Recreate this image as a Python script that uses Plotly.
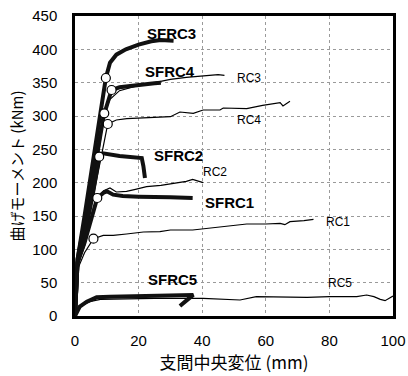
import plotly.graph_objects as go

# ---- data ----
sfrc3_x = [0, 0.8, 3, 6, 9.7, 11, 13, 16, 20, 24, 27, 31]
sfrc3_y = [0, 85, 150, 240, 357, 380, 392, 400, 407, 412, 414, 413]

sfrc4_x = [0, 0.8, 3, 6, 9, 11.5, 14, 17, 21, 25, 27]
sfrc4_y = [0, 85, 140, 215, 300, 339, 343, 345, 347, 349, 350]

rc3_x = [0, 0.8, 3, 6, 9.2, 11, 14, 20, 25, 30, 35, 40, 45, 47]
rc3_y = [0, 80, 125, 195, 304, 325, 338, 346, 350, 355, 358, 360, 362, 361]

rc4_x = [0, 0.8, 3, 6, 10.3, 13, 16.3, 22, 30, 33, 37.2, 40.3, 45.6, 46.6, 54, 59, 64.5, 65.4, 67.6]
rc4_y = [0, 80, 120, 185, 288, 294, 296, 297, 299, 306, 304, 309, 309, 312, 311, 316, 320, 315, 322]

sfrc2_x = [0, 0.8, 3, 5.5, 7.6, 8.8, 14, 21, 21.5, 22]
sfrc2_y = [0, 80, 120, 180, 239, 244, 240, 237, 225, 207]

sfrc1_x = [0, 0.8, 3, 5, 7, 9, 10, 12, 15, 20, 25, 30, 37]
sfrc1_y = [0, 80, 110, 145, 177, 185, 187, 182, 180, 179, 179, 178, 177]

rc2_x = [0, 0.8, 3, 5, 7, 9, 11, 13, 16.2, 19, 22.5, 27, 32, 35, 37, 38.5, 40.3]
rc2_y = [0, 75, 105, 140, 177, 188, 192, 186, 187, 190, 194, 196, 200, 202, 205, 203, 200]

rc1_x = [0, 0.8, 3, 5.8, 8.9, 12, 16.2, 21.5, 26.7, 30, 37, 41.4, 45.6, 54, 60, 64.5, 66, 67.6, 72, 75]
rc1_y = [0, 70, 95, 116, 121, 121, 123, 126, 126.5, 129, 129, 131.5, 134, 138, 138, 139, 137, 141.5, 143, 145]

sfrc5_x = [0, 0.5, 1.5, 3.7, 6.8, 11, 20, 30, 37.2, 35, 33]
sfrc5_y = [0, 6, 14, 21.5, 28, 29, 30, 31, 31.5, 23, 15]

rc5_x = [0, 0.5, 2, 5, 8, 15, 25, 40.3, 51.9, 57, 65, 73, 80, 88.6, 91.7, 94, 96, 97.5, 100]
rc5_y = [0, 5, 15, 22, 25, 26, 26.5, 26.5, 24, 29, 28, 28, 29, 29, 31.5, 29, 25, 23, 30]

yield_x = [9.7, 11.5, 9.2, 10.3, 7.6, 7.0, 5.8]
yield_y = [357, 339, 304, 288, 239, 177, 116]

label_text = ["SFRC3", "SFRC4", "SFRC2", "SFRC1", "SFRC5", "RC3", "RC4", "RC2", "RC1", "RC5"]
label_x = [30.5, 29.9, 32.4, 48.7, 30.8, 54.7, 54.7, 44, 82.7, 83.3]
label_y = [424.5, 367.5, 241.5, 171, 55.5, 357, 294, 216, 141, 49.5]

x_ticks = [0, 20, 40, 60, 80, 100]
y_ticks = [0, 50, 100, 150, 200, 250, 300, 350, 400, 450]

fig = go.Figure()

thin = dict(color="black", width=1.2)
thick = dict(color="#111", width=4)

for xs, ys in [(rc3_x, rc3_y), (rc4_x, rc4_y), (rc2_x, rc2_y), (rc1_x, rc1_y), (rc5_x, rc5_y)]:
    fig.add_trace(go.Scatter(x=xs, y=ys, mode="lines", line=thin, showlegend=False))
for xs, ys in [(sfrc3_x, sfrc3_y), (sfrc4_x, sfrc4_y), (sfrc2_x, sfrc2_y), (sfrc1_x, sfrc1_y), (sfrc5_x, sfrc5_y)]:
    fig.add_trace(go.Scatter(x=xs, y=ys, mode="lines", line=thick, showlegend=False))

fig.add_trace(go.Scatter(x=yield_x, y=yield_y, mode="markers",
                         marker=dict(symbol="circle", size=9, color="white",
                                     line=dict(color="black", width=1.2)),
                         showlegend=False))

for t, x, y in zip(label_text, label_x, label_y):
    bold = t.startswith("SFRC")
    fig.add_annotation(x=x, y=y, xref="x", yref="y", text=f"<b>{t}</b>" if bold else t,
                       showarrow=False,
                       font=dict(family="Liberation Sans, Arial", size=15 if bold else 12, color="black"))

axis_common = dict(showgrid=True, gridcolor="#9a9a9a", gridwidth=1, griddash="dot",
                   showline=True, linecolor="black", linewidth=2.5, mirror=True,
                   zeroline=False, ticks="", automargin=False,
                   tickfont=dict(family="Liberation Sans, Arial", size=15, color="black"))

fig.update_xaxes(range=[0, 100], tickvals=x_ticks, ticklabelstandoff=9,
                 title=dict(text="支間中央変位 (mm)", standoff=3,
                            font=dict(family="Noto Sans CJK JP", size=17, color="black")),
                 **axis_common)
fig.update_yaxes(range=[0, 450], tickvals=y_ticks, ticklabelstandoff=12,
                 title=dict(text="曲げモーメント (kNm)", standoff=5,
                            font=dict(family="Noto Sans CJK JP", size=15, color="black")),
                 **axis_common)

fig.update_layout(width=408, height=376, margin=dict(l=75, r=15, t=16, b=60),
                  plot_bgcolor="white", paper_bgcolor="white")

fig.write_html("out.html", config={"displayModeBar": False},
               post_script="document.body.style.margin='0';document.body.style.overflow='hidden';")
